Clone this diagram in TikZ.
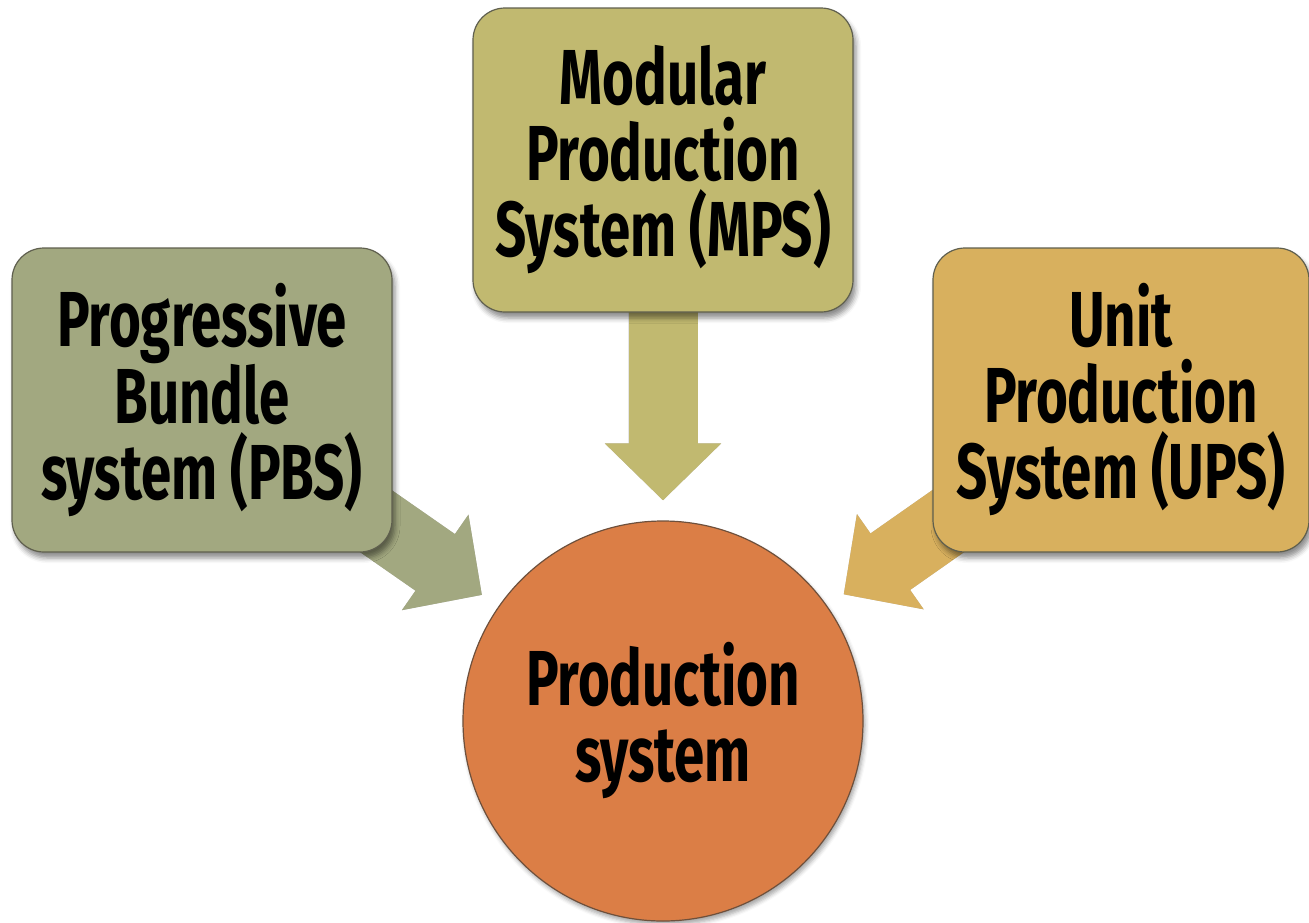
\documentclass[tikz,border=0pt]{standalone}
\usepackage{fontspec}
\newfontfamily\diagfont[FakeStretch=0.70]{Fira Sans}
\usetikzlibrary{arrows.meta,backgrounds,shadows.blur}

\definecolor{pbsfill}{RGB}{162,168,128}
\definecolor{mpsfill}{RGB}{193,185,112}
\definecolor{upsfill}{RGB}{216,176,94}
\definecolor{corefill}{RGB}{219,126,70}
\definecolor{edgegray}{RGB}{95,95,78}
\definecolor{coreedge}{RGB}{110,80,60}

\tikzset{
  labeltext/.style={align=center, inner sep=0pt,
    font={\diagfont\bfseries\fontsize{78}{76}\selectfont}},
  unitbox/.style={labeltext, rectangle, rounded corners=32pt,
    draw=edgegray, line width=1.2pt,
    minimum width=380pt, minimum height=304pt,
    blur shadow={shadow xshift=3pt, shadow yshift=-6pt,
      shadow blur radius=5pt, shadow opacity=45}},
  corecircle/.style={labeltext, circle, minimum size=400pt,
    fill=corefill, draw=coreedge, line width=1.2pt,
    blur shadow={shadow xshift=2pt, shadow yshift=-4pt,
      shadow blur radius=4pt, shadow opacity=35}},
  feed/.style={line width=69pt, -{Triangle[width=113pt,length=57pt]},
    shorten >=20pt},
}

\begin{document}
\begin{tikzpicture}[x=1pt, y=-1pt]
  \useasboundingbox (0,0) rectangle (1309,922);

  % the three production systems and the common target
  \node[unitbox, fill=pbsfill] (pbs) at (202,400) {Progressive\\Bundle\\system (PBS)};
  \node[unitbox, fill=mpsfill] (mps) at (663,160) {Modular\\Production\\System (MPS)};
  \node[unitbox, fill=upsfill, minimum width=376pt] (ups) at (1121,400) {Unit\\Production\\System (UPS)};
  \node[corecircle] (core) at (663,721) {Production\\system};

  % block arrows behind the boxes
  \begin{scope}[on background layer]
    \begin{scope}[transparency group, opacity=0.28, xshift=3pt, yshift=-4pt]
      \draw[feed, draw=black] (pbs.center) -- (core);
      \draw[feed, draw=black] (mps.center) -- (core);
      \draw[feed, draw=black] (ups.center) -- (core);
    \end{scope}
    \draw[feed, draw=pbsfill] (pbs.center) -- (core);
    \draw[feed, draw=mpsfill] (mps.center) -- (core);
    \draw[feed, draw=upsfill] (ups.center) -- (core);
  \end{scope}
\end{tikzpicture}
\end{document}
